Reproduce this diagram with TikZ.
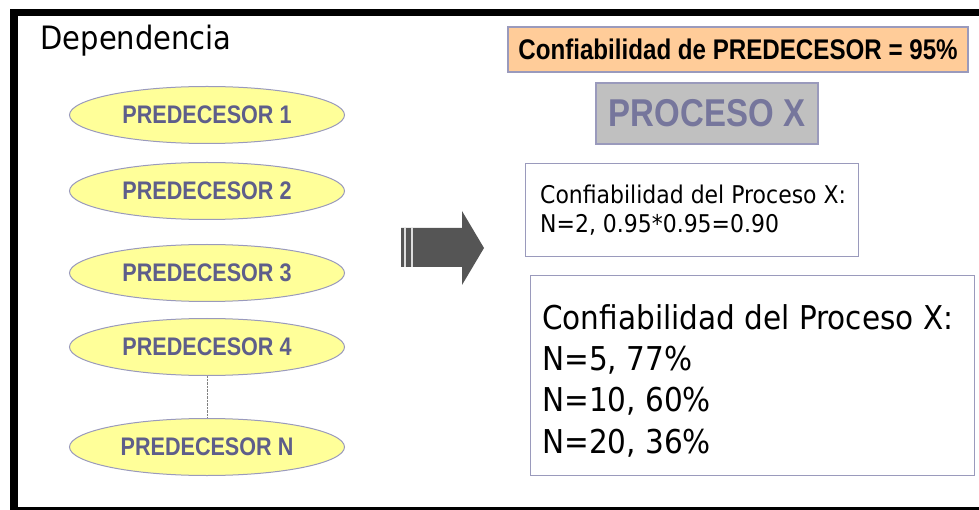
\documentclass[tikz,border=0pt]{standalone}
\usepackage{fontspec}
\setmainfont{DejaVu Sans}[FakeStretch=0.9]
\newfontfamily\predfont{Liberation Sans}[FakeStretch=0.85]
\usetikzlibrary{shapes.geometric}

\definecolor{amarillo}{HTML}{FFFF99}
\definecolor{lila}{HTML}{9A9ABC}
\definecolor{lilatexto}{HTML}{5E5E8A}
\definecolor{naranja}{HTML}{FFCC99}
\definecolor{gris}{HTML}{C0C0C0}
\definecolor{flecha}{HTML}{555555}

\tikzset{
  pred/.style={ellipse,draw=lila,line width=1pt,fill=amarillo,minimum width=275pt,minimum height=57pt,inner sep=0pt,
    text=lilatexto,font=\predfont\bfseries\fontsize{25.4}{28}\selectfont},
  caja/.style={draw=lila,line width=1.2pt,inner sep=0pt},
}

\begin{document}
\begin{tikzpicture}[x=1pt,y=-1pt]
\useasboundingbox (0,0) rectangle (979,510);

\fill (10,9) rectangle (979,16);
\fill (10,9) rectangle (18,510);
\fill (10,507) rectangle (979,510);

\node[anchor=base west,font=\fontsize{32.2}{36}\selectfont] (titulo) at (37,50) {Dependencia};

\foreach \i/\y in {1/115,2/191,3/273,4/347}
  \node[pred] (p\i) at (207,\y) {PREDECESOR \i};
\node[pred] (pN) at (207,447) {PREDECESOR N};
\draw[gray,densely dotted] (p4.south) -- (pN.north);

\fill[flecha] (401,228) -- (462,228) -- (462,211) -- (484,248) -- (462,285) -- (462,267) -- (401,267) -- cycle;
\draw[white!80!flecha,line width=1.2pt] (405,228) -- (405,267) (412,228) -- (412,267);

\node[caja,fill=naranja,minimum width=460pt,minimum height=45pt,font=\predfont\bfseries\fontsize{28.4}{32}\selectfont] (conf) at (738,49.5) {Confiabilidad de PREDECESOR = 95\%};
\node[caja,fill=gris,minimum width=222pt,minimum height=61pt,text=lilatexto!85!white,font=\predfont\bfseries\fontsize{38.8}{42}\selectfont] (proceso) at (707,113.5) {PROCESO X};

\node[caja,anchor=north west,minimum width=333pt,minimum height=93pt] (n2) at (525,163) {};
\node[anchor=west,align=left,inner sep=0pt,font=\fontsize{24.4}{29}\selectfont] (txt2) at ([xshift=15pt]n2.west) {Confiabilidad del Proceso X:\\N=2, 0.95*0.95=0.90};

\node[caja,anchor=north west,minimum width=444pt,minimum height=200pt] (nn) at (530,275) {};
\node[anchor=west,align=left,inner sep=0pt,font=\fontsize{32.8}{41.3}\selectfont] (txtn) at ([xshift=12pt,yshift=-5pt]nn.west) {Confiabilidad del Proceso X:\\N=5, 77\%\\N=10, 60\%\\N=20, 36\%};

\end{tikzpicture}
\end{document}
